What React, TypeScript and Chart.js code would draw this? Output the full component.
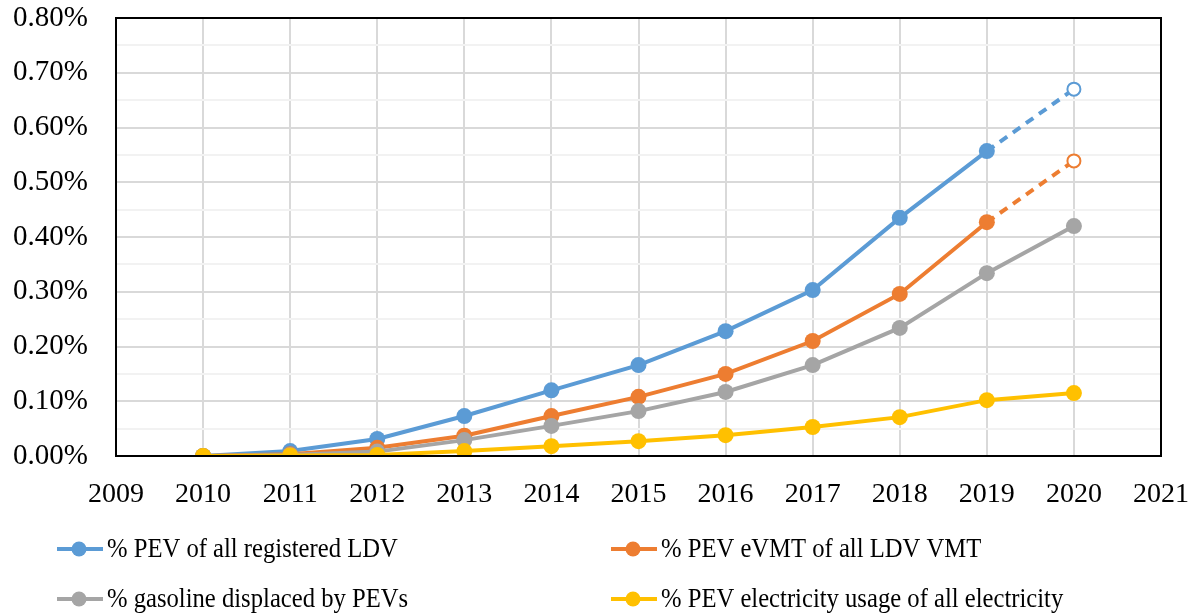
import React, { useEffect, useRef } from "react";
import { Chart, registerables } from "chart.js";

Chart.register(...registerables);

const years = [2010, 2011, 2012, 2013, 2014, 2015, 2016, 2017, 2018, 2019, 2020];
const pevShareLdv = [0, 0.009, 0.031, 0.073, 0.12, 0.166, 0.228, 0.303, 0.435, 0.557, 0.67];
const pevEvmtShare = [0, 0.003, 0.015, 0.037, 0.073, 0.108, 0.15, 0.21, 0.296, 0.427, 0.539];
const gasolineDisplaced = [0, 0.002, 0.008, 0.029, 0.055, 0.082, 0.117, 0.166, 0.234, 0.334, 0.42];
const electricityShare = [0, 0.001, 0.002, 0.009, 0.018, 0.027, 0.038, 0.053, 0.071, 0.102, 0.115];
const seriesNames = [
  "% PEV of all registered LDV",
  "% PEV eVMT of all LDV VMT",
  "% gasoline displaced by PEVs",
  "% PEV electricity usage of all electricity",
];
const seriesColors = ["#5b9bd5", "#ed7d31", "#a5a5a5", "#ffc000"];
const projectedLast = [true, true, false, false];

const FONT = "'Liberation Serif', 'DejaVu Serif', serif";

export default function App() {
  const ref = useRef<HTMLCanvasElement | null>(null);
  useEffect(() => {
    document.body.style.margin = "0";
    const canvas = ref.current!;
    const allValues = [pevShareLdv, pevEvmtShare, gasolineDisplaced, electricityShare];
    const lastIdx = years.length - 1;
    const datasets = allValues.map((vals, s) => {
      const c = seriesColors[s];
      const proj = projectedLast[s];
      return {
        label: seriesNames[s],
        data: years.map((yr, i) => ({ x: yr, y: vals[i] })),
        borderColor: c,
        backgroundColor: c,
        borderWidth: 4,
        pointRadius: years.map((_, i) => (proj && i === lastIdx ? 6.5 : 8)),
        pointBorderWidth: years.map((_, i) => (proj && i === lastIdx ? 2 : 0)),
        pointBackgroundColor: years.map((_, i) => (proj && i === lastIdx ? "#ffffff" : c)),
        pointBorderColor: c,
        order: 3 - s,
        segment: {
          borderDash: (ctx: any) => (proj && ctx.p1DataIndex === lastIdx ? [9, 7] : undefined),
        },
      };
    });

    const framePlugin = {
      id: "frame",
      afterDraw(chart: any) {
        const { ctx, chartArea } = chart;
        ctx.save();
        ctx.strokeStyle = "#000";
        ctx.lineWidth = 2;
        ctx.strokeRect(chartArea.left, chartArea.top, chartArea.right - chartArea.left, chartArea.bottom - chartArea.top);
        // legend
        const cols = [57, 611];
        const rows = [549, 599];
        ctx.font = `28px ${FONT}`;
        ctx.textBaseline = "middle";
        ctx.textAlign = "left";
        seriesNames.forEach((name, i) => {
          const x = cols[i % 2];
          const y = rows[Math.floor(i / 2)];
          ctx.strokeStyle = seriesColors[i];
          ctx.lineWidth = 4;
          ctx.beginPath();
          ctx.moveTo(x, y);
          ctx.lineTo(x + 46, y);
          ctx.stroke();
          ctx.fillStyle = seriesColors[i];
          ctx.beginPath();
          ctx.arc(x + 22, y, 7.5, 0, Math.PI * 2);
          ctx.fill();
          ctx.fillStyle = "#000";
          ctx.save();
          ctx.translate(x + 50, y + 1);
          ctx.scale(0.88, 1);
          ctx.fillText(name, 0, 0);
          ctx.restore();
        });
        ctx.restore();
      },
    };

    const chart = new Chart(canvas, {
      type: "line",
      data: { datasets: datasets as any },
      options: {
        animation: false,
        responsive: false,
        maintainAspectRatio: false,
        layout: { padding: { left: 0, right: 38, top: 18, bottom: 109 } },
        plugins: { legend: { display: false }, tooltip: { enabled: false } },
        scales: {
          x: {
            type: "linear",
            min: 2009,
            max: 2021,
            ticks: {
              stepSize: 1,
              color: "#000",
              padding: 22,
              font: { family: FONT, size: 28 },
              callback: (v: any) => String(v),
            },
            grid: { color: "#d9d9d9", lineWidth: 2, drawTicks: false },
            border: { color: "#000", width: 2 },
            afterFit: (scale: any) => {
              scale.height = 50;
              scale.paddingLeft = 0;
              scale.paddingRight = 0;
            },
          },
          y: {
            min: 0,
            max: 0.8,
            ticks: {
              stepSize: 0.05,
              color: "#000",
              padding: 28,
              font: { family: FONT, size: 29 },
              autoSkip: false,
              callback: (v: any) => (Math.round(v * 100) % 10 === 0 ? Number(v).toFixed(2) + "%" : ""),
            },
            grid: {
              drawTicks: false,
              lineWidth: 2,
              color: (ctx: any) =>
                ctx.tick && Math.round(ctx.tick.value * 100) % 10 === 0 ? "#d9d9d9" : "#f2f2f2",
            },
            border: { color: "#000", width: 2 },
            afterFit: (scale: any) => {
              scale.width = 116;
              scale.paddingTop = 0;
              scale.paddingBottom = 0;
            },
          },
        },
      },
      plugins: [framePlugin],
    });
    return () => chart.destroy();
  }, []);
  return (
    <div style={{ width: 1199, height: 615, background: "#fff" }}>
      <canvas ref={ref} width={1199} height={615} style={{ display: "block" }} />
    </div>
  );
}
